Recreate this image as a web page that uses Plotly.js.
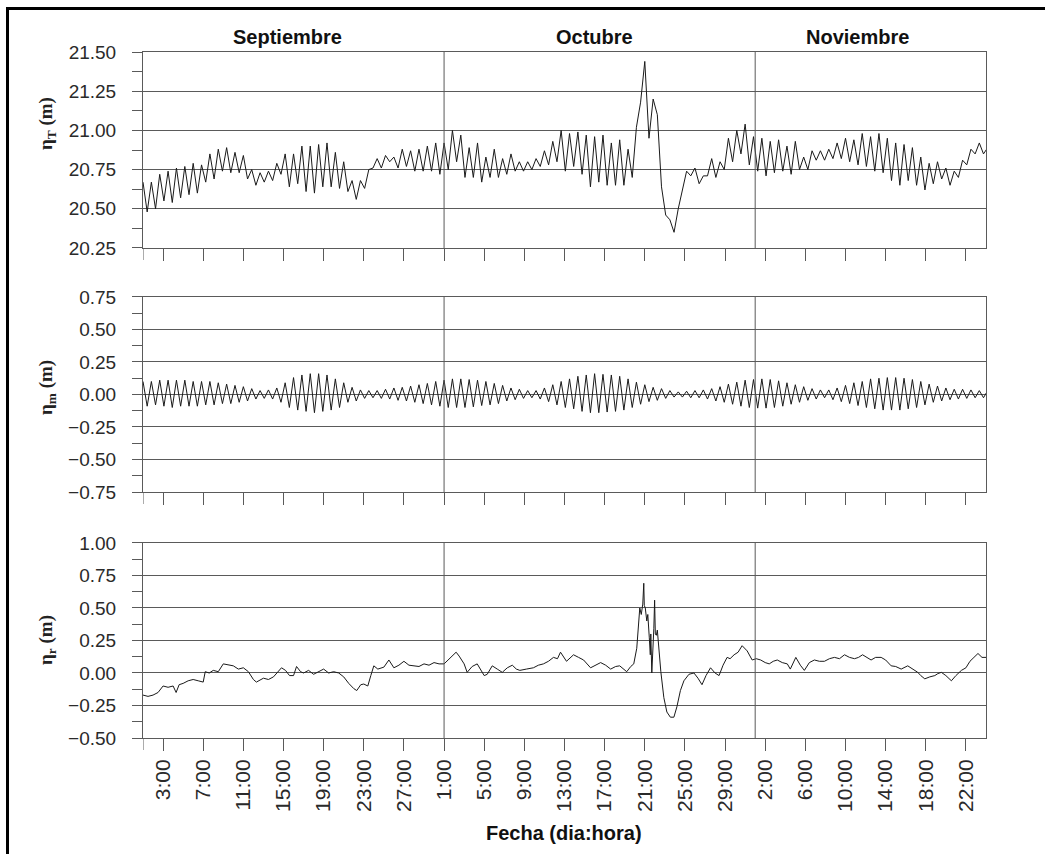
<!DOCTYPE html>
<html>
<head>
<meta charset="utf-8">
<script src="https://cdn.plot.ly/plotly-3.0.1.min.js"></script>
<style>
  html, body { margin: 0; padding: 0; background: #fff; }
  #wrap { position: relative; width: 1045px; height: 854px; }
  #chart { position: absolute; left: 0; top: 0; width: 1045px; height: 854px; }
  #frame { position: absolute; left: 6px; top: 7px; width: 1045px; height: 860px;
           border-left: 3px solid #000; border-top: 3px solid #000; pointer-events: none; }
</style>
</head>
<body>
<div id="wrap">
  <div id="chart"></div>
  <div id="frame"></div>
</div>
<script>
// ---- data ----
const startDate = '2010-09-01T00:00:00Z';
const stepHours = 10; // sampling step of the tide / total series

// eta_T (m) total water level, one value every stepHours from startDate
const totalVals = [
20.67,20.48,20.67,20.50,20.72,20.55,20.74,20.54,20.76,20.57,20.77,20.59,
20.79,20.60,20.78,20.67,20.85,20.69,20.88,20.74,20.89,20.73,20.86,20.73,
20.84,20.69,20.75,20.65,20.73,20.67,20.74,20.68,20.79,20.72,20.85,20.64,
20.85,20.66,20.90,20.61,20.90,20.60,20.91,20.64,20.92,20.64,20.86,20.63,
20.80,20.61,20.68,20.56,20.68,20.63,20.75,20.76,20.82,20.76,20.84,20.80,
20.83,20.76,20.88,20.77,20.87,20.74,20.88,20.74,20.90,20.74,20.92,20.72,
20.92,20.75,21.00,20.80,20.97,20.70,20.89,20.70,20.92,20.67,20.83,20.70,
20.88,20.70,20.82,20.72,20.85,20.74,20.80,20.74,20.80,20.75,20.82,20.77,
20.87,20.78,20.93,20.80,21.00,20.74,20.98,20.77,20.99,20.72,20.97,20.64,
20.96,20.67,20.97,20.65,20.92,20.65,20.94,20.65,20.88,20.70,21.02,21.18,
21.44,20.95,21.20,21.10,20.64,20.46,20.43,20.35,20.50,20.63,20.74,20.71,
20.76,20.66,20.71,20.71,20.82,20.70,20.80,20.75,20.95,20.80,21.00,20.85,
21.04,20.78,20.96,20.74,20.95,20.71,20.93,20.73,20.94,20.74,20.90,20.72,
20.93,20.75,20.83,20.75,20.87,20.81,20.87,20.81,20.88,20.82,20.92,20.82,
20.95,20.80,20.94,20.78,20.98,20.77,20.96,20.74,20.98,20.73,20.95,20.68,
20.92,20.65,20.91,20.68,20.89,20.65,20.83,20.62,20.79,20.66,20.80,20.69,
20.76,20.65,20.74,20.70,20.81,20.78,20.88,20.85,20.92,20.85,20.89
];

// eta_m (m) tidal component, same sampling
const tideVals = [
0.10,-0.09,0.10,-0.08,0.11,-0.09,0.11,-0.10,0.11,-0.09,0.11,-0.09,
0.10,-0.09,0.10,-0.08,0.10,-0.08,0.09,-0.07,0.08,-0.07,0.07,-0.06,
0.06,-0.05,0.045,-0.035,0.03,-0.03,0.035,-0.035,0.05,-0.06,0.09,-0.10,
0.13,-0.12,0.15,-0.13,0.16,-0.14,0.16,-0.13,0.15,-0.12,0.12,-0.10,
0.09,-0.06,0.055,-0.05,0.035,-0.03,0.03,-0.025,0.03,-0.03,0.04,-0.035,
0.05,-0.045,0.055,-0.05,0.065,-0.06,0.075,-0.07,0.085,-0.08,0.10,-0.09,
0.11,-0.10,0.12,-0.10,0.12,-0.10,0.115,-0.095,0.11,-0.085,0.10,-0.08,
0.085,-0.07,0.07,-0.05,0.05,-0.04,0.04,-0.03,0.03,-0.025,0.03,-0.035,
0.05,-0.055,0.075,-0.08,0.10,-0.10,0.12,-0.11,0.14,-0.13,0.15,-0.14,
0.16,-0.14,0.155,-0.135,0.15,-0.13,0.14,-0.12,0.12,-0.10,0.095,-0.075,
0.075,-0.055,0.055,-0.045,0.045,-0.03,0.03,-0.02,0.02,-0.02,0.025,-0.025,
0.03,-0.025,0.035,-0.035,0.045,-0.05,0.06,-0.06,0.08,-0.075,0.095,-0.09,
0.11,-0.10,0.115,-0.105,0.12,-0.105,0.115,-0.10,0.105,-0.09,0.09,-0.075,
0.075,-0.06,0.06,-0.045,0.045,-0.035,0.035,-0.025,0.035,-0.04,0.05,-0.055,
0.07,-0.07,0.09,-0.085,0.10,-0.10,0.12,-0.11,0.125,-0.12,0.13,-0.12,
0.13,-0.12,0.125,-0.11,0.115,-0.10,0.10,-0.08,0.08,-0.06,0.065,-0.05,
0.05,-0.04,0.04,-0.035,0.04,-0.03,0.035,-0.025,0.03,-0.025,0.03
];

// eta_r (m) residual component: time (days after startDate) and value
const residDays = [
0,0.5,1,1.5,2,2.5,3,3.3,3.6,4,4.5,5,5.5,6,6.2,6.6,7,7.5,8,8.5,9,9.5,10,10.5,11,11.3,12,12.5,13,13.8,
14.2,14.6,15,15.3,15.7,16,16.5,17,17.5,18,18.5,19,19.5,20,20.5,21,21.3,21.7,22,22.4,22.7,23,23.4,24,24.5,
25,25.5,26,26.5,27,27.5,28,28.5,29,29.5,30,30.4,30.7,31.2,31.5,32,32.3,32.8,33.3,34,34.3,34.8,35.3,35.8,
36.3,36.8,37.2,37.55,38.2,38.9,39.4,39.9,40.4,40.9,41.3,41.6,42.2,42.9,43.4,43.9,44.6,45.1,45.6,46.1,46.6,
47.1,47.5,48.2,48.6,48.9,49.2,49.5,49.65,49.8,49.9,49.95,50.05,50.2,50.3,50.45,50.55,50.6,50.7,50.9,50.98,
51.05,51.15,51.25,51.4,51.6,51.9,52.2,52.55,52.9,53.2,53.55,53.9,54.4,54.9,55.3,55.7,56.1,56.55,57.0,57.4,
57.8,58.2,58.5,58.9,59.3,59.7,60.2,60.7,61.1,61.55,62.0,62.4,62.8,63.2,63.7,64.2,64.5,65.05,65.5,65.9,
66.4,66.9,67.4,67.9,68.4,68.9,69.4,69.9,70.4,70.9,71.3,71.7,72.1,72.55,73.0,73.55,74.0,74.55,75.0,75.55,
76.2,76.7,77.2,77.5,77.9,78.4,78.9,79.2,79.55,80.0,80.55,81.0,81.55,82.0,82.4,82.8,83.2,83.6,84.05
];
const residVals = [
-0.17,-0.18,-0.17,-0.15,-0.10,-0.11,-0.10,-0.15,-0.09,-0.08,-0.06,-0.05,-0.06,-0.07,0.01,0.0,0.02,0.01,0.07,0.06,0.055,0.03,0.04,0.01,-0.05,-0.07,-0.04,-0.05,-0.03,0.04,
0.02,-0.02,-0.02,0.05,0.01,0.0,0.02,-0.01,0.01,0.03,0.0,0.01,0.0,-0.03,-0.08,-0.12,-0.135,-0.09,-0.085,-0.10,-0.02,0.055,0.03,0.045,0.10,
0.04,0.06,0.09,0.06,0.055,0.05,0.07,0.06,0.08,0.07,0.07,0.10,0.13,0.16,0.13,0.07,0.005,0.05,0.07,-0.02,-0.01,0.055,0.03,0.005,
0.04,0.06,0.03,0.02,0.03,0.04,0.06,0.07,0.09,0.12,0.11,0.16,0.09,0.14,0.12,0.10,0.04,0.06,0.08,0.06,0.03,
0.05,0.055,0.01,0.05,0.07,0.19,0.50,0.45,0.53,0.69,0.52,0.50,0.40,0.45,0.27,0.14,0.30,0.0,0.34,0.56,
0.30,0.29,0.33,0.19,0.01,-0.19,-0.30,-0.34,-0.34,-0.26,-0.135,-0.06,-0.01,0.0,-0.04,-0.09,-0.02,0.04,0.0,-0.02,
0.06,0.12,0.11,0.14,0.16,0.21,0.17,0.10,0.11,0.10,0.08,0.07,0.09,0.10,0.08,0.07,0.03,0.12,0.06,0.02,
0.08,0.10,0.09,0.09,0.11,0.12,0.11,0.14,0.12,0.11,0.12,0.14,0.12,0.10,0.12,0.12,0.10,0.055,0.05,0.03,
0.055,0.03,0.005,-0.02,-0.045,-0.03,-0.02,-0.005,0.005,-0.02,-0.06,-0.02,0.02,0.04,0.09,0.12,0.15,0.12,0.12
];

// x-axis ticks (labelled), plus the unlabelled tick at the start of the record
const tickDates = [
'2010-09-03','2010-09-07','2010-09-11','2010-09-15','2010-09-19','2010-09-23','2010-09-27',
'2010-10-01','2010-10-05','2010-10-09','2010-10-13','2010-10-17','2010-10-21','2010-10-25','2010-10-29',
'2010-11-02','2010-11-06','2010-11-10','2010-11-14','2010-11-18','2010-11-22'
];
const tickLabels = [
'3:00','7:00','11:00','15:00','19:00','23:00','27:00',
'1:00','5:00','9:00','13:00','17:00','21:00','25:00','29:00',
'2:00','6:00','10:00','14:00','18:00','22:00'
];
const firstTick = '2010-09-01';
const monthNames = ['Septiembre','Octubre','Noviembre'];
const monthBoundaries = ['2010-10-01','2010-11-01'];
const yTitles = ['<b>η<sub>T</sub> (m)</b>', '<b>η<sub>m</sub> (m)</b>', '<b>η<sub>r</sub> (m)</b>'];

// ---- helpers ----
const t0 = Date.parse(startDate);
function fmt(ms) { return new Date(ms).toISOString().replace('T', ' ').slice(0, 19); }
const gridTimes = totalVals.map((_, i) => fmt(t0 + i * stepHours * 3600000));
const residTimes = residDays.map(d => fmt(t0 + d * 86400000));

const lineStyle = { color: '#1a1a1a', width: 1 };
const traces = [
  { x: gridTimes, y: totalVals, type: 'scatter', mode: 'lines', line: lineStyle, xaxis: 'x', yaxis: 'y', hoverinfo: 'skip' },
  { x: gridTimes, y: tideVals, type: 'scatter', mode: 'lines', line: lineStyle, xaxis: 'x2', yaxis: 'y2', hoverinfo: 'skip' },
  { x: residTimes, y: residVals, type: 'scatter', mode: 'lines', line: lineStyle, xaxis: 'x3', yaxis: 'y3', hoverinfo: 'skip' }
];

const gridColor = '#5a5a5a';
const tickFont = { family: 'Liberation Sans, Arial, sans-serif', size: 19, color: '#2a2a2a' };
const xTickFont = { family: 'Liberation Sans, Arial, sans-serif', size: 21, color: '#2a2a2a' };
const titleFont = { family: 'Liberation Serif, Times New Roman, serif', size: 19, color: '#222' };

function xAxis(anchor, showLabels) {
  return {
    type: 'date', range: ['2010-09-01', '2010-11-24'], anchor: anchor,
    tickmode: 'array', tickvals: tickDates, ticktext: tickLabels,
    ticks: 'outside', ticklen: 12, tickcolor: gridColor, tickwidth: 1,
    showticklabels: showLabels, tickangle: -90, tickfont: xTickFont,
    showgrid: false, zeroline: false,
    showline: true, mirror: true, linecolor: gridColor, linewidth: 1
  };
}
function yAxis(domain, range, anchor) {
  return {
    domain: domain, range: range, anchor: anchor,
    dtick: 0.25, tick0: 0, tickformat: '.2f',
    ticks: 'outside', ticklen: 10, tickcolor: gridColor, tickwidth: 1,
    ticklabelstandoff: 12,
    minor: { dtick: 0.125, tick0: 0, ticks: 'outside', ticklen: 10, tickcolor: gridColor, showgrid: false },
    tickfont: tickFont,
    showgrid: true, gridcolor: gridColor, gridwidth: 1, zeroline: false,
    showline: true, mirror: true, linecolor: gridColor, linewidth: 1
  };
}

const shapes = [];
const panelDomainH = [196, 195, 195];
[['x', 'y domain'], ['x2', 'y2 domain'], ['x3', 'y3 domain']].forEach(([xr, yr], k) => {
  monthBoundaries.forEach(d => {
    shapes.push({ type: 'line', xref: xr, yref: yr, x0: d, x1: d, y0: 0, y1: 1,
                  line: { color: gridColor, width: 1 } });
  });
  shapes.push({ type: 'line', xref: xr, yref: yr, x0: firstTick, x1: firstTick,
                y0: 0, y1: -12 / panelDomainH[k], line: { color: gridColor, width: 1 } });
});

const monthPos = ['2010-09-15 10:00', '2010-10-16 00:00', '2010-11-11 05:00'];
const annotations = monthNames.map((m, i) => ({
  text: '<b>' + m + '</b>', xref: 'x', yref: 'paper', x: monthPos[i], y: 1.0,
  yanchor: 'bottom', yshift: 2, showarrow: false,
  font: { family: 'Liberation Sans, Arial, sans-serif', size: 20, color: '#111' }
}));
annotations.push({
  text: '<b>Fecha (dia:hora)</b>', xref: 'paper', yref: 'paper', x: 0.4996, y: 0,
  yanchor: 'top', yshift: -82, showarrow: false,
  font: { family: 'Liberation Sans, Arial, sans-serif', size: 20, color: '#111' }
});
const yTitlePos = [0.8965, 0.5117, 0.1429];
yTitles.forEach((t, i) => annotations.push({
  text: t, xref: 'paper', yref: 'paper', x: -0.1139, y: yTitlePos[i],
  xanchor: 'center', yanchor: 'middle', textangle: -90, showarrow: false,
  font: titleFont
}));

const layout = {
  width: 1045, height: 854,
  margin: { l: 143, r: 59, t: 52, b: 116 },
  paper_bgcolor: '#fff', plot_bgcolor: '#fff',
  showlegend: false,
  xaxis: xAxis('y', false),
  xaxis2: xAxis('y2', false),
  xaxis3: xAxis('y3', true),
  yaxis: yAxis([0.7143, 1.0], [20.25, 21.5], 'x'),
  yaxis2: yAxis([0.3586, 0.6429], [-0.75, 0.75], 'x2'),
  yaxis3: yAxis([0, 0.2843], [-0.5, 1.0], 'x3'),
  shapes: shapes,
  annotations: annotations
};
layout.xaxis2.matches = 'x';
layout.xaxis3.matches = 'x';

Plotly.newPlot('chart', traces, layout, { staticPlot: true, displayModeBar: false });
</script>
</body>
</html>
